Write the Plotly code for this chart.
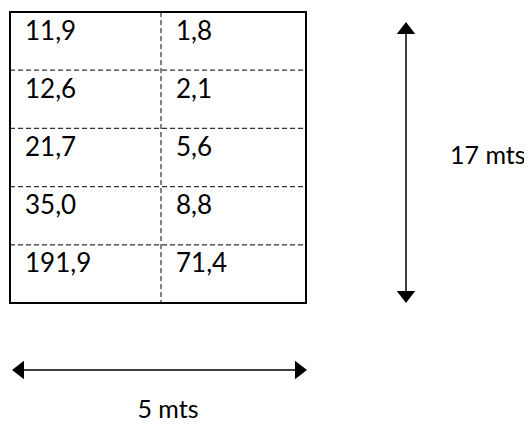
import plotly.graph_objects as go

# cell values (two columns, five rows)
left_vals = [11.9, 12.6, 21.7, 35.0, 191.9]
right_vals = [1.8, 2.1, 5.6, 8.8, 71.4]
height_label = "17 mts"
width_label = "5 mts"

FONT = "Lato, 'Open Sans', sans-serif"
PAGE_OFFSET = 8  # browser body margin, so axis units equal page pixels

# layout in page pixels
box_x0, box_x1 = 10, 306
box_y0, box_y1 = 12, 303
mid_x = 161
n_rows = len(left_vals)
row_h = (box_y1 - box_y0) / n_rows
text_pad = 15

v_arrow_x, v_arrow_y0, v_arrow_y1 = 406, 22, 303
h_arrow_y, h_arrow_x0, h_arrow_x1 = 370, 12, 307
head = 16


def fmt(v):
    return f"{v:.1f}".replace(".", ",")


fig = go.Figure()

# cell text
for col_x, vals in [(box_x0, left_vals), (mid_x, right_vals)]:
    fig.add_trace(
        go.Scatter(
            x=[col_x + text_pad] * n_rows,
            y=[box_y0 + row_h * i + 21 for i in range(n_rows)],
            text=[fmt(v) for v in vals],
            mode="text",
            textposition="middle right",
            textfont={"family": FONT, "size": 26, "color": "#000000"},
            hoverinfo="skip",
            showlegend=False,
        )
    )

shapes = []
# dashed dividers
for i in range(1, n_rows):
    y = box_y0 + row_h * i
    shapes.append(
        dict(type="line", x0=box_x0, x1=box_x1, y0=y, y1=y,
             line={"color": "#333333", "width": 1.2, "dash": "5px,3px"})
    )
shapes.append(
    dict(type="line", x0=mid_x, x1=mid_x, y0=box_y0, y1=box_y1,
         line={"color": "#333333", "width": 1.2, "dash": "5px,3px"})
)
# outer box
shapes.append(
    dict(type="rect", x0=box_x0, x1=box_x1, y0=box_y0, y1=box_y1,
         line={"color": "black", "width": 2}, fillcolor="rgba(0,0,0,0)")
)
# arrow shafts
shapes.append(
    dict(type="line", x0=v_arrow_x, x1=v_arrow_x, y0=v_arrow_y0 + 8, y1=v_arrow_y1 - 8,
         line={"color": "black", "width": 1.5})
)
shapes.append(
    dict(type="line", x0=h_arrow_x0 + 8, x1=h_arrow_x1 - 8, y0=h_arrow_y, y1=h_arrow_y,
         line={"color": "black", "width": 1.5})
)

# arrow heads
fig.add_trace(
    go.Scatter(
        x=[v_arrow_x, v_arrow_x, h_arrow_x0 + head / 2, h_arrow_x1 - head / 2],
        y=[v_arrow_y0 + head / 2, v_arrow_y1 - head / 2, h_arrow_y, h_arrow_y],
        mode="markers",
        marker={
            "symbol": ["triangle-up", "triangle-down", "triangle-left", "triangle-right"],
            "size": head,
            "color": "black",
            "line": {"width": 0},
        },
        hoverinfo="skip",
        showlegend=False,
    )
)

# dimension labels
fig.add_trace(
    go.Scatter(
        x=[450, 168],
        y=[158, 412],
        text=[height_label, width_label],
        mode="text",
        textposition=["middle right", "middle center"],
        textfont={"family": FONT, "size": 25, "color": "#000000"},
        hoverinfo="skip",
        showlegend=False,
    )
)

fig.update_layout(
    width=532,
    height=424,
    margin={"l": 0, "r": 0, "t": 0, "b": 0},
    paper_bgcolor="white",
    plot_bgcolor="white",
    shapes=shapes,
    xaxis={"range": [PAGE_OFFSET, 532 + PAGE_OFFSET], "visible": False, "fixedrange": True},
    yaxis={"range": [424 + PAGE_OFFSET, PAGE_OFFSET], "visible": False, "fixedrange": True},
)

fig.write_html("out.html")
